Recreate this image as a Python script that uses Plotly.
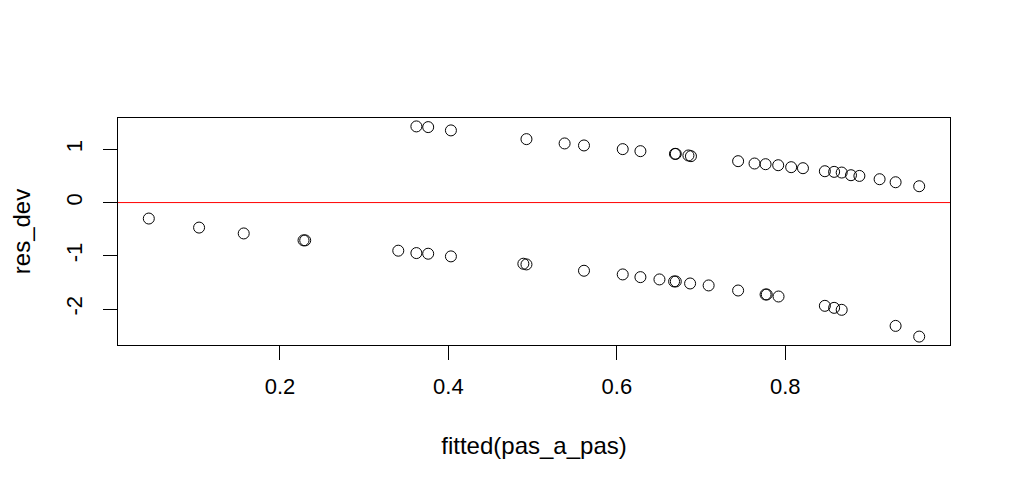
import plotly.graph_objects as go

# fitted values and deviance residuals
fitted = [0.0443, 0.104, 0.157, 0.228, 0.230, 0.3405, 0.362, 0.376, 0.403,
          0.489, 0.4927, 0.561, 0.607, 0.628, 0.6506, 0.668, 0.670, 0.687,
          0.709, 0.744, 0.7766, 0.778, 0.792, 0.847, 0.858, 0.867, 0.931, 0.959,
          0.362, 0.376, 0.403, 0.4927, 0.538, 0.561, 0.607, 0.628, 0.669, 0.670,
          0.685, 0.688, 0.744, 0.7635, 0.7766, 0.7916, 0.807, 0.821, 0.847,
          0.858, 0.867, 0.878, 0.888, 0.912, 0.931, 0.959]
res_dev = [-0.30, -0.47, -0.58, -0.71, -0.71, -0.904, -0.949, -0.961, -1.011,
           -1.149, -1.162, -1.281, -1.350, -1.401, -1.444, -1.482, -1.482, -1.520,
           -1.557, -1.652, -1.727, -1.727, -1.765, -1.940, -1.978, -2.015, -2.317, -2.518,
           1.431, 1.418, 1.356, 1.192, 1.111, 1.073, 1.004, 0.966, 0.915, 0.915,
           0.885, 0.872, 0.778, 0.734, 0.721, 0.702, 0.665, 0.646, 0.589,
           0.577, 0.564, 0.514, 0.501, 0.439, 0.382, 0.307]

x_ticks = [0.2, 0.4, 0.6, 0.8]
y_ticks = [-2, -1, 0, 1]
y_labels = ["-2", "-1", "0", "1"]

font = "Liberation Sans"

# R style 4% padding on both axes
xr = max(fitted) - min(fitted)
yr = max(res_dev) - min(res_dev)

fig = go.Figure()
fig.add_trace(go.Scatter(x=fitted, y=res_dev, mode='markers',
                         marker=dict(symbol='circle-open', size=11,
                                     color='black', line=dict(width=1))))
fig.add_hline(y=0, line_color='red', line_width=1)

# page body adds an 8px offset, so margins are shifted to compensate
fig.update_layout(
    width=1012, height=492,
    margin=dict(l=110, r=70, t=110, b=155),
    plot_bgcolor='white', paper_bgcolor='white',
    showlegend=False,
    font=dict(family=font, size=22, color='black'),
)
fig.update_xaxes(range=[min(fitted) - 0.04 * xr, max(fitted) + 0.04 * xr],
                 tickvals=x_ticks, ticks='outside', ticklen=14, tickcolor='black',
                 showline=True, mirror=True, linecolor='black', linewidth=1,
                 showgrid=False, zeroline=False, ticklabelstandoff=8,
                 title=dict(text='fitted(pas_a_pas)', standoff=38, font=dict(size=24)))
fig.update_yaxes(range=[min(res_dev) - 0.04 * yr, max(res_dev) + 0.04 * yr],
                 tickvals=y_ticks, ticktext=y_labels, tickangle=-90,
                 ticks='outside', ticklen=14, tickcolor='black',
                 showline=True, mirror=True, linecolor='black', linewidth=1,
                 showgrid=False, zeroline=False, ticklabelstandoff=12,
                 title=dict(text='res_dev', standoff=26, font=dict(size=24)))

fig.write_html("out.html")
